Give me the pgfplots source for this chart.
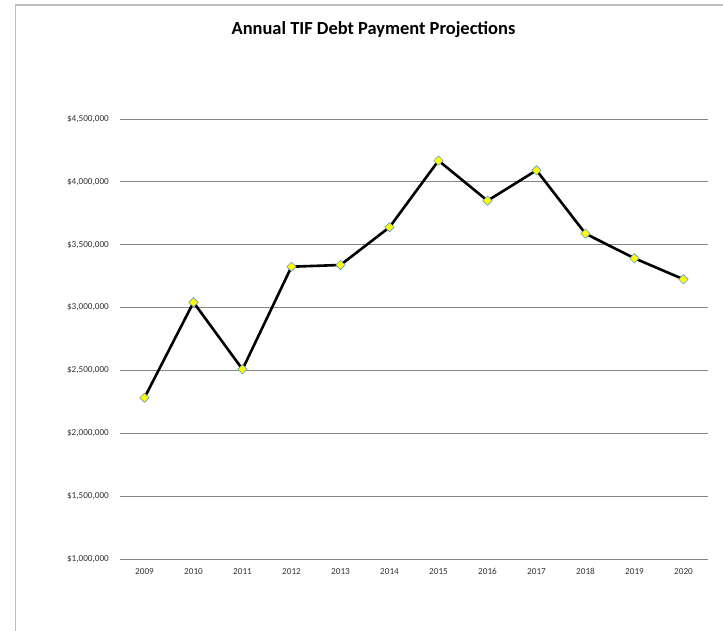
\documentclass[border=0pt]{standalone}
\usepackage{pgfplots}
\pgfplotsset{compat=1.18}
\usepackage{fontspec}
\setmainfont{Carlito}
\definecolor{framegray}{RGB}{190,190,190}
\definecolor{gridgray}{RGB}{134,134,134}
\definecolor{labelgray}{RGB}{50,50,50}
\definecolor{markerblue}{RGB}{91,155,213}
\definecolor{markeryellow}{RGB}{255,255,0}
\begin{document}
\begin{tikzpicture}
\path[use as bounding box] (0,0) rectangle (723bp,-631bp);
\draw[line width=1.6bp, framegray] (15.5bp,-631bp) -- (15.5bp,-5bp) -- (723bp,-5bp);
\begin{axis}[
  at={(120bp,-559bp)}, anchor=south west,
  scale only axis, width=588bp, height=440bp,
  xmin=-0.5, xmax=11.5, ymin=1000000, ymax=4500000,
  scaled y ticks=false,
  axis line style={draw=none},
  major tick length=0pt,
  xtick={0,...,11},
  xticklabels={2009,2010,2011,2012,2013,2014,2015,2016,2017,2018,2019,2020},
  ytick={1000000,1500000,2000000,2500000,3000000,3500000,4000000,4500000},
  yticklabels={{\$1,000,000},{\$1,500,000},{\$2,000,000},{\$2,500,000},{\$3,000,000},{\$3,500,000},{\$4,000,000},{\$4,500,000}},
  ymajorgrids,
  grid style={gridgray, line width=0.9bp},
  tick label style={font=\fontsize{9.2}{10}\selectfont, text=labelgray},
  yticklabel style={anchor=east, inner sep=0pt, xshift=-11bp},
  xticklabel style={anchor=base, inner sep=0pt, yshift=-15.8bp},
  /pgf/number format/assume math mode=true,
  clip=false,
]
\addplot[black, line width=2.6bp, line join=round,
  mark=square*, mark size=3.3bp,
  mark options={rotate=45, fill=markeryellow, draw=markerblue, line width=0.6bp, solid}]
coordinates {
(0,2283000) (1,3042000) (2,2509000) (3,3325000) (4,3339000) (5,3639000)
(6,4169000) (7,3850000) (8,4092000) (9,3588000) (10,3392000) (11,3225000)
};
\end{axis}
\node[font=\bfseries\fontsize{18.5}{22}\selectfont, anchor=base] at (373.5bp,-34.3bp) {Annual TIF Debt Payment Projections};
\end{tikzpicture}
\end{document}
